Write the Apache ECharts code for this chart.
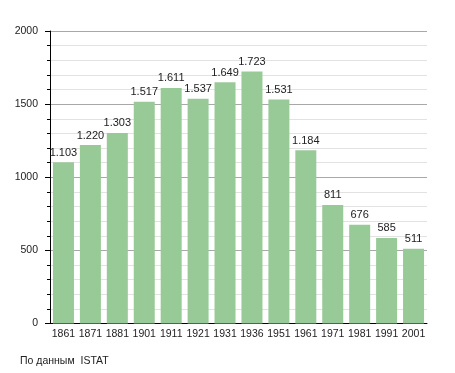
<!DOCTYPE html>
<html>
<head>
<meta charset="utf-8">
<script src="https://cdn.jsdelivr.net/npm/echarts@6/dist/echarts.min.js"></script>
<style>
  html, body { margin: 0; padding: 0; background: #fff; }
  #chart { width: 455px; height: 373px; }
</style>
</head>
<body>
<div id="chart"></div>
<script>
var years = ['1861', '1871', '1881', '1901', '1911', '1921', '1931', '1936', '1951', '1961', '1971', '1981', '1991', '2001'];
var population = [1103, 1220, 1303, 1517, 1611, 1537, 1649, 1723, 1531, 1184, 811, 676, 585, 511];
var yTicks = [0, 500, 1000, 1500, 2000];

var FONT = 'Liberation Sans, Arial, sans-serif';

// 1103 -> "1.103"
var fmtNum = function(v) {
  return String(v).replace(/\B(?=(\d{3})+(?!\d))/g, '.');
};

var chart = echarts.init(document.getElementById('chart'));

var options = {
  animation: false,
  textStyle: { fontFamily: FONT },
  grid: { left: 50, right: 28, top: 31, bottom: 49.5 },
  xAxis: {
    type: 'category',
    data: years,
    axisLine: { lineStyle: { color: '#000', width: 1 } },
    axisTick: { show: false },
    axisLabel: { color: '#222', fontSize: 10.5, fontFamily: FONT, margin: 5, interval: 0 }
  },
  yAxis: {
    type: 'value',
    min: yTicks[0],
    max: yTicks[yTicks.length - 1],
    interval: 500,
    axisLine: { show: true, lineStyle: { color: '#000', width: 1 } },
    axisTick: { show: true, length: 5, lineStyle: { color: '#000' } },
    minorTick: { show: true, splitNumber: 5, length: 3, lineStyle: { color: '#000' } },
    axisLabel: {
      color: '#222', fontSize: 10.5, fontFamily: FONT, margin: 12,
      formatter: function(v) { return String(v); }
    },
    splitLine: { show: true, lineStyle: { color: '#a8a8a8', width: 1 } },
    minorSplitLine: { show: true, lineStyle: { color: '#e2e2e2', width: 1 } }
  },
  series: [{
    type: 'bar',
    data: population,
    barCategoryGap: '22%',
    itemStyle: { color: '#98ca98' },
    label: {
      show: true,
      position: 'top',
      distance: 4,
      color: '#222',
      fontSize: 11,
      fontFamily: FONT,
      formatter: function(p) { return fmtNum(p.value); }
    }
  }],
  graphic: [{
    type: 'text',
    left: 20,
    top: 356,
    style: { text: 'По данным  ISTAT', fill: '#222', fontSize: 10.5, fontFamily: FONT }
  }]
};

chart.setOption(options);
</script>
</body>
</html>
